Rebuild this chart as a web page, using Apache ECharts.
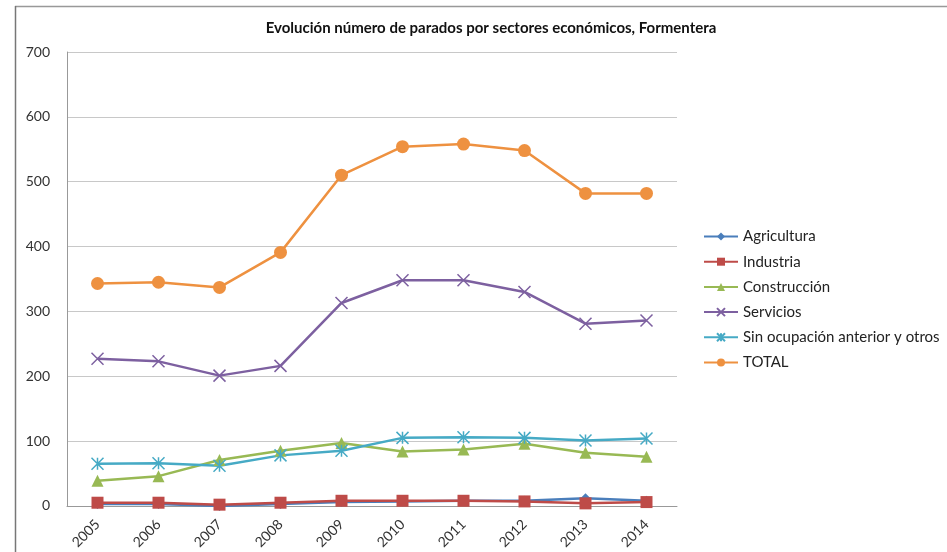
<!DOCTYPE html>
<html><head><meta charset="utf-8">
<script src="https://cdn.jsdelivr.net/npm/echarts@6/dist/echarts.min.js"></script>
<style>html,body{margin:0;padding:0;background:#fff}#c{width:947px;height:552px}</style>
</head><body><div id="c"></div>
<script>
const years = ['2005','2006','2007','2008','2009','2010','2011','2012','2013','2014'];
const agricultura = [3,3,0,3,6,7,8,8,12,8];
const industria = [5,5,2,5,8,8,8,7,4,6];
const construccion = [39,46,71,85,97,84,87,96,82,76];
const servicios = [227,223,201,216,313,348,348,330,281,286];
const sinOcupacion = [65,66,62,78,85,105,106,105,101,104];
const total = [343,345,337,391,510,554,558,548,482,482];
const yTicks = [0,100,200,300,400,500,600,700];

const xPath = 'path://M0,0L10,10M10,0L0,10';
const starPath = 'path://M0,0L10,10M10,0L0,10M5,0L5,10';
const FONT = 'Lato, "Open Sans", sans-serif';

function mk(name, data, color, symbol, size, stroke) {
  return {
    name, type: 'line', data, symbol, symbolSize: size,
    lineStyle: {color, width: 2.5},
    itemStyle: stroke ? {color: 'rgba(0,0,0,0)', borderColor: color, borderWidth: 1.5} : {color},
    emphasis: {disabled: true},
    animation: false
  };
}

const chart = echarts.init(document.getElementById('c'));
chart.setOption({
  backgroundColor: '#fff',
  textStyle: {fontFamily: FONT},
  title: {
    text: 'Evolución número de parados por sectores económicos, Formentera',
    left: 486, top: 16, textAlign: 'center',
    textStyle: {fontSize: 15, fontWeight: 'bold', color: '#111', fontFamily: FONT}
  },
  graphic: [
    {type: 'line', shape: {x1: 15, y1: 6.5, x2: 947, y2: 6.5}, style: {stroke: '#999', lineWidth: 1.5}, silent: true},
    {type: 'line', shape: {x1: 15.5, y1: 6, x2: 15.5, y2: 552}, style: {stroke: '#777', lineWidth: 1.5}, silent: true}
  ],
  grid: {left: 67, right: 270, top: 52, bottom: 45, containLabel: false},
  legend: {
    orient: 'vertical', left: 698, top: 224, itemWidth: 34, itemHeight: 10, itemGap: 10.2,
    textStyle: {fontSize: 15, lineHeight: 15, color: '#222', fontFamily: FONT},
    data: ['Agricultura','Industria','Construcción','Servicios','Sin ocupación anterior y otros','TOTAL']
  },
  xAxis: {
    type: 'category', data: years, boundaryGap: true,
    axisLine: {lineStyle: {color: '#999'}},
    axisTick: {show: false},
    axisLabel: {rotate: 45, fontSize: 14, color: '#333', margin: 16}
  },
  yAxis: {
    type: 'value', min: yTicks[0], max: yTicks[yTicks.length-1], interval: 100,
    axisLine: {show: true, lineStyle: {color: '#999'}},
    axisTick: {show: false},
    splitLine: {lineStyle: {color: '#c8c8c8'}},
    axisLabel: {fontSize: 14, color: '#333', margin: 17}
  },
  series: [
    mk('Agricultura', agricultura, '#4A7EBB', 'diamond', 10),
    mk('Industria', industria, '#BE4B48', 'rect', 12),
    mk('Construcción', construccion, '#98B954', 'triangle', 12),
    mk('Servicios', servicios, '#7D60A0', xPath, 12, true),
    mk('Sin ocupación anterior y otros', sinOcupacion, '#46AAC5', starPath, 12, true),
    mk('TOTAL', total, '#EE9140', 'circle', 13)
  ]
});
</script></body></html>
